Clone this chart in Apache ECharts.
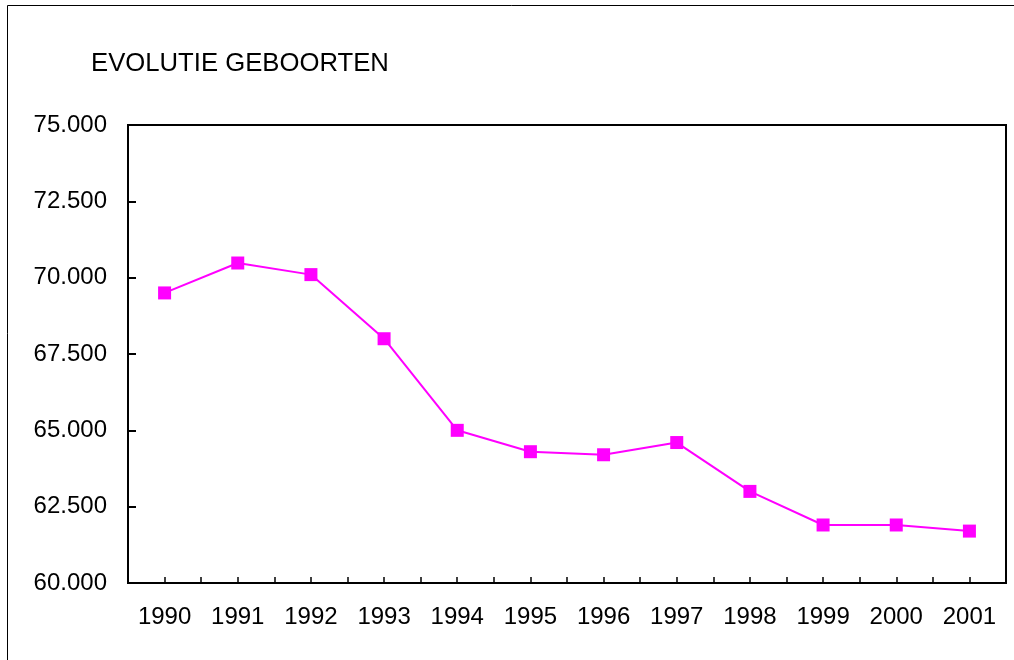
<!DOCTYPE html>
<html>
<head>
<meta charset="utf-8">
<script src="https://cdn.jsdelivr.net/npm/echarts@6/dist/echarts.min.js"></script>
<style>
  html, body { margin: 0; padding: 0; background: #fff; }
  #chart { width: 1014px; height: 660px; }
</style>
</head>
<body>
<div id="chart"></div>
<script>
// jaren en aantal geboorten
const years = ["1990", "1991", "1992", "1993", "1994", "1995", "1996", "1997", "1998", "1999", "2000", "2001"];
const births = [69500, 70480, 70100, 68000, 65000, 64300, 64200, 64600, 63000, 61900, 61900, 61700];
const yMin = 60000;
const yMax = 75000;
const yStep = 2500;

const fontFamily = "Liberation Sans, Arial, sans-serif";

// 75000 -> "75.000"
function fmt(v) {
  return String(v).replace(/\B(?=(\d{3})+(?!\d))/g, ".");
}

const chart = echarts.init(document.getElementById("chart"), null, { renderer: "canvas" });
chart.setOption({
  animation: false,
  backgroundColor: "#fff",
  title: {
    text: "EVOLUTIE GEBOORTEN",
    left: 86,
    top: 46,
    textStyle: { fontFamily, fontSize: 25.7, fontWeight: "normal", color: "#000" },
  },
  graphic: [
    {
      // buitenkader
      type: "rect",
      shape: { x: 7.5, y: 5.5, width: 1100, height: 800 },
      style: { fill: "none", stroke: "#000", lineWidth: 1 },
      silent: true,
    },
  ],
  grid: {
    left: 128,
    top: 125,
    width: 878,
    height: 458,
    show: true,
    borderColor: "#000",
    borderWidth: 2,
    backgroundColor: "transparent",
  },
  xAxis: [
    {
      type: "category",
      data: years,
      position: "bottom",
      boundaryGap: true,
      axisLine: { lineStyle: { color: "#000", width: 2 } },
      axisTick: { show: true, inside: true, length: 6, alignWithLabel: false, lineStyle: { color: "#000", width: 1.5 } },
      axisLabel: { margin: 22, fontFamily, fontSize: 24, color: "#000" },
      splitLine: { show: false },
    },
    {
      // tweede as alleen voor de streepjes midden in elke categorie
      type: "category",
      data: years,
      position: "bottom",
      offset: 0,
      boundaryGap: true,
      axisLine: { show: false },
      axisTick: { show: true, inside: true, length: 6, alignWithLabel: true, lineStyle: { color: "#000", width: 1.5 } },
      axisLabel: { show: false },
      splitLine: { show: false },
    },
  ],
  yAxis: {
    type: "value",
    min: yMin,
    max: yMax,
    interval: yStep,
    axisLine: { show: true, lineStyle: { color: "#000", width: 2 } },
    axisTick: { show: true, inside: true, length: 8, lineStyle: { color: "#000", width: 2 } },
    axisLabel: { margin: 21, fontFamily, fontSize: 24, color: "#000", formatter: fmt },
    splitLine: { show: false },
  },
  series: [
    {
      type: "line",
      data: births,
      xAxisIndex: 0,
      symbol: "rect",
      symbolSize: 13,
      showAllSymbol: true,
      lineStyle: { color: "#ff00ff", width: 2 },
      itemStyle: { color: "#ff00ff" },
    },
  ],
});
</script>
</body>
</html>
